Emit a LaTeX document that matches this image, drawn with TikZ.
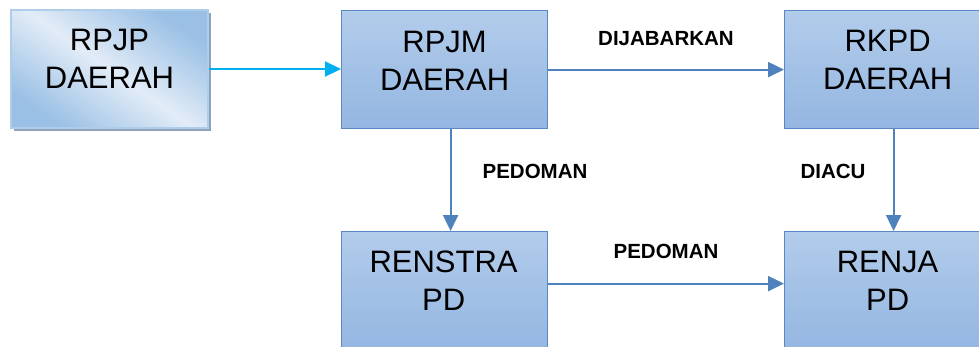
\documentclass[tikz,border=0pt]{standalone}
\usepackage{fontspec}
\setmainfont{Liberation Sans}
\usetikzlibrary{arrows.meta,shadows}
\definecolor{boxtop}{HTML}{B2CCEB}
\definecolor{boxbot}{HTML}{94B6E1}
\definecolor{boxline}{HTML}{5A88C4}
\definecolor{arrblue}{HTML}{4F81BD}
\definecolor{arrcyan}{HTML}{00B0F0}
\definecolor{lightin}{HTML}{E2ECF7}
\definecolor{lightcorner}{HTML}{9AC0E5}
\definecolor{shadowgrey}{HTML}{8EA3BA}
\tikzset{
  blbox/.style={draw=boxline, line width=1.2pt, top color=boxtop, bottom color=boxbot,
    minimum width=206pt, minimum height=118pt, inner sep=0pt, anchor=north west},
  lightbox/.style={draw=lightcorner!80!white, line width=2pt,
    top color=lightcorner, bottom color=lightcorner, middle color=lightin, shading angle=-35,
    minimum width=197pt, minimum height=118pt, inner sep=0pt, anchor=north west,
    drop shadow={shadow xshift=3pt, shadow yshift=-3pt, fill=shadowgrey, opacity=1}},
  boxtext/.style={font=\fontsize{31}{38}\selectfont, align=center, inner sep=0pt},
  lbl/.style={font=\fontsize{20.5}{24}\selectfont\bfseries, inner sep=0pt},
  arr/.style={draw=arrblue, line width=2.2pt, -{Triangle[length=16pt,width=15pt]}},
  carr/.style={draw=arrcyan, line width=2.2pt, -{Triangle[length=16pt,width=15pt]}},
}
\begin{document}
\begin{tikzpicture}[x=1pt,y=-1pt]
\useasboundingbox (0,0) rectangle (979,346);
\begin{scope}
\clip (0,0) rectangle (979,346);
\node[lightbox] (rpjp) at (10,9) {};
\node[blbox] (rpjm) at (341,10) {};
\node[blbox, minimum width=218pt] (rkpd) at (784,10) {};
\node[blbox] (renstra) at (341,231) {};
\node[blbox, minimum width=218pt] (renja) at (784,231) {};
\end{scope}
\node[boxtext] (trpjp) at ([yshift=10pt]rpjp.center) {RPJP\\DAERAH};
\node[boxtext] (trpjm) at ([yshift=9pt]rpjm.center) {RPJM\\DAERAH};
\node[boxtext] (trkpd) at ([xshift=-6pt,yshift=10pt]rkpd.center) {RKPD\\DAERAH};
\node[boxtext] (trenstra) at ([xshift=-1pt,yshift=10pt]renstra.center) {RENSTRA\\PD};
\node[boxtext] (trenja) at ([xshift=-6pt,yshift=10pt]renja.center) {RENJA\\PD};
\draw[carr] (rpjp.east) -- (rpjp.east -| rpjm.west);
\draw[arr] (rpjm.east) -- (rpjm.east -| rkpd.west);
\draw[arr] ([xshift=6pt]rpjm.south) -- ([xshift=6pt]renstra.north);
\draw[arr] (rkpd.south) -- (renja.north);
\draw[arr] ([yshift=7pt]renstra.east) -- ([yshift=7pt]renstra.east -| renja.west);
\node[lbl] (l1) at (666,39) {DIJABARKAN};
\node[lbl] (l2) at (535,171) {PEDOMAN};
\node[lbl] (l3) at (833,171) {DIACU};
\node[lbl] (l4) at (666,251) {PEDOMAN};
\end{tikzpicture}
\end{document}
